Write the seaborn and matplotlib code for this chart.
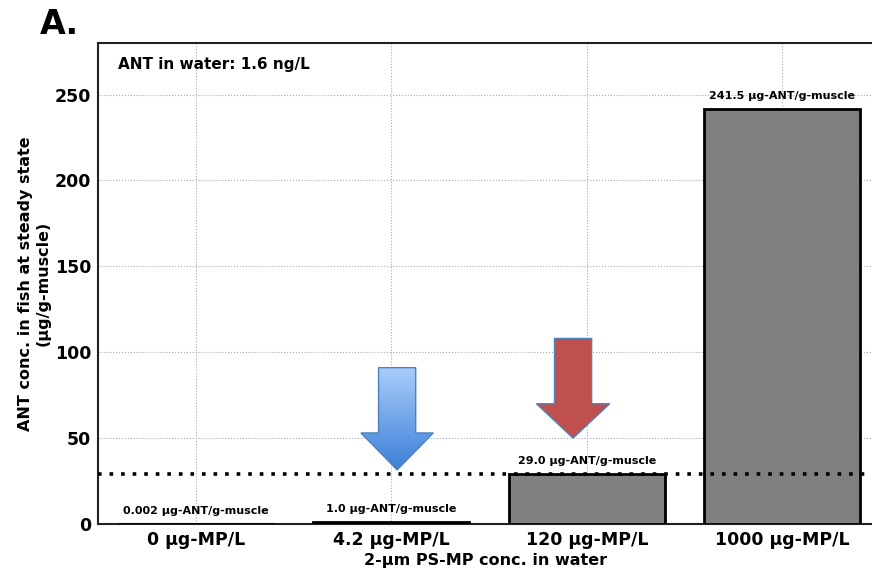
import numpy as np
import pandas as pd
import seaborn as sns
import matplotlib.pyplot as plt
from matplotlib.patches import Polygon
from matplotlib.colors import LinearSegmentedColormap

# data
doses = ["0 μg-MP/L", "4.2 μg-MP/L", "120 μg-MP/L", "1000 μg-MP/L"]
ant_conc = [0.002, 1.0, 29.0, 241.5]
bar_labels = ["0.002 μg-ANT/g-muscle", "1.0 μg-ANT/g-muscle",
              "29.0 μg-ANT/g-muscle", "241.5 μg-ANT/g-muscle"]
threshold = 29.0

df = pd.DataFrame({"dose": doses, "conc": ant_conc})

sns.set_style("white")
plt.rcParams["font.family"] = ["DejaVu Sans"]
plt.rcParams["font.weight"] = "bold"
plt.rcParams["text.color"] = "black"
plt.rcParams["axes.labelcolor"] = "black"
plt.rcParams["xtick.color"] = "black"
plt.rcParams["ytick.color"] = "black"

fig = plt.figure(figsize=(8.72, 5.72), dpi=100)
# axes run past the right edge like the original figure crop
ax = fig.add_axes([98 / 872, 1 - 524 / 572, 782 / 872, 481 / 572])

sns.barplot(data=df, x="dose", y="conc", color="#808080", saturation=1,
            edgecolor="black", linewidth=2, width=0.8, ax=ax, zorder=3)

ax.set_xlim(-0.5, 3.5)
ax.set_ylim(0, 280)
ax.set_yticks([0, 50, 100, 150, 200, 250])
ax.grid(True, color="#aaaaaa", linestyle=":", linewidth=0.8, zorder=0)
ax.set_axisbelow(True)
for s in ax.spines.values():
    s.set_linewidth(1.5)
    s.set_color("#222222")
ax.tick_params(axis="both", length=3, width=1, labelsize=12.5, pad=2)
for t in ax.get_xticklabels() + ax.get_yticklabels():
    t.set_fontweight("bold")

ax.set_xlabel("2-μm PS-MP conc. in water", fontsize=11.5, fontweight="bold")
ax.set_ylabel("ANT conc. in fish at steady state\n(μg/g-muscle)", fontsize=11.5,
              fontweight="bold", labelpad=3)
ax.xaxis.set_label_coords((486 - 98) / 782, -(560 - 524) / 481)
ax.xaxis.label.set_va("center")

# threshold line
ax.axhline(threshold, color="black", linestyle=(0, (1, 2.2)), linewidth=2.6, zorder=4)

# value labels
for i, (v, lab) in enumerate(zip(ant_conc, bar_labels)):
    ax.annotate(lab, (i, v), xytext=(0, 6), textcoords="offset points",
                ha="center", va="bottom", fontsize=8, fontweight="bold", zorder=5)

ax.text(0.025, 0.955, "ANT in water: 1.6 ng/L", transform=ax.transAxes,
        fontsize=11, fontweight="bold", va="center", ha="left")
fig.text(40 / 872, 1 - 24 / 572, "A.", fontsize=24, fontweight="bold", va="center", ha="left")


def arrow_pts(cx, top, tip, shaft_w, head_w, head_base):
    return np.array([
        [cx - shaft_w / 2, top], [cx + shaft_w / 2, top],
        [cx + shaft_w / 2, head_base], [cx + head_w / 2, head_base],
        [cx, tip], [cx - head_w / 2, head_base],
        [cx - shaft_w / 2, head_base],
    ])


# blue gradient arrow
bpts = arrow_pts(1.03, 91, 31.5, 0.19, 0.37, 53)
bpoly = Polygon(bpts, closed=True, facecolor="none", edgecolor="#4f81bd",
                linewidth=1, zorder=6)
ax.add_patch(bpoly)
grad = np.linspace(0, 1, 256).reshape(-1, 1)
cmap = LinearSegmentedColormap.from_list("bl", ["#3c7fd8", "#a9cdfa"])
im = ax.imshow(grad, cmap=cmap, aspect="auto", origin="lower",
               extent=[bpts[:, 0].min(), bpts[:, 0].max(), 31.5, 91], zorder=5)
im.set_clip_path(bpoly)

# red arrow
rpts = arrow_pts(1.93, 108, 50, 0.19, 0.375, 70)
ax.add_patch(Polygon(rpts, closed=True, facecolor="#c0504d", edgecolor="#4f81bd",
                     linewidth=1, zorder=6))
ax.set_xlim(-0.5, 3.5)
ax.set_ylim(0, 280)

fig.savefig("out.png", dpi=100)
